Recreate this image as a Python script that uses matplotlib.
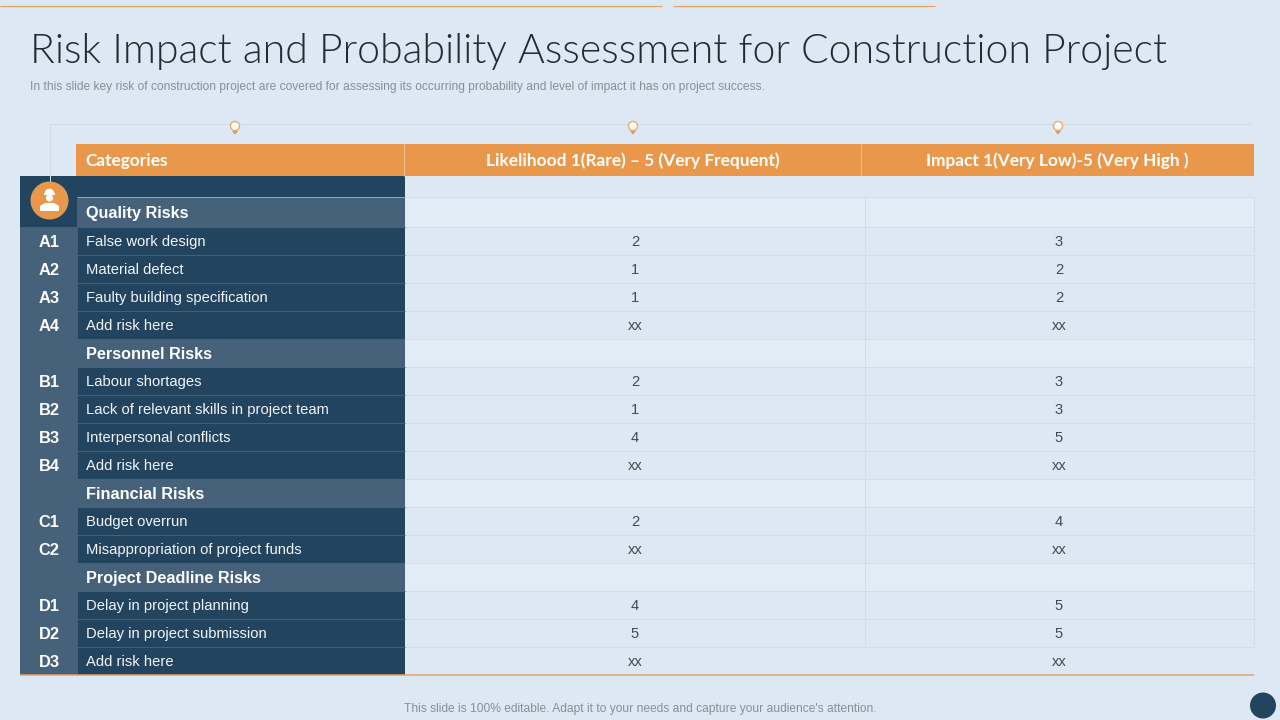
import matplotlib
matplotlib.use("Agg")
import matplotlib.pyplot as plt
from matplotlib.patches import Rectangle, Circle, Polygon, Wedge

# table content
codes = ["", "A1", "A2", "A3", "A4", "", "B1", "B2", "B3", "B4", "", "C1", "C2", "", "D1", "D2", "D3"]
categories = ["Quality Risks", "False work design", "Material defect", "Faulty building specification",
              "Add risk here", "Personnel Risks", "Labour shortages",
              "Lack of relevant skills in project team", "Interpersonal conflicts", "Add risk here",
              "Financial Risks", "Budget overrun", "Misappropriation of project funds",
              "Project Deadline Risks", "Delay in project planning", "Delay in project submission",
              "Add risk here"]
likelihood = ["", "2", "1", "1", "xx", "", "2", "1", "4", "xx", "", "2", "xx", "", "4", "5", "xx"]
impact = ["", "3", "2", "2", "xx", "", "3", "3", "5", "xx", "", "4", "xx", "", "5", "5", "xx"]
headers = ["Categories", "Likelihood 1(Rare) \u2013 5 (Very Frequent)", "Impact 1(Very Low)-5 (Very High )"]

BG = "#DCE8F3"
DARK = "#23445F"
SLATE = "#46627A"
ORANGE = "#E9984B"
PALE = "#E2ECF6"
GRID = "#D3DDE8"
RULE = "#E9A164"
PX = 0.72  # 1 pixel in points

SANS = ["Liberation Sans", "DejaVu Sans"]
HEAD = ["Lato", "DejaVu Sans"]

fig = plt.figure(figsize=(12.8, 7.2), dpi=100, facecolor=BG)
ax = fig.add_axes([0, 0, 1, 1])
ax.set_xlim(0, 1280)
ax.set_ylim(720, 0)
ax.axis("off")


def box(x0, y0, x1, y1, color, z=1):
    ax.add_patch(Rectangle((x0, y0), x1 - x0, y1 - y0, fc=color, ec="none", zorder=z))


def line(x0, y0, x1, y1, color, lw=PX, z=2):
    ax.plot([x0, x1], [y0, y1], color=color, lw=lw, zorder=z, solid_capstyle="butt")


# top rules
line(0, 5.5, 662, 5.5, RULE, PX * 1.2)
line(673, 5.5, 935, 5.5, RULE, PX * 1.2)

ax.text(30, 52, "Risk Impact and Probability Assessment for Construction Project",
        family=HEAD, weight=300, fontsize=29.55, color="#262B33", va="center", ha="left")
ax.text(30, 87, "In this slide key risk of construction project are covered for assessing its "
        "occurring probability and level of impact it has on project success.",
        family=SANS, fontsize=8.68, color="#8A8F96", va="center", ha="left")

# connector lines and bulbs
line(50, 123.5, 1251, 123.5, "#CFDAE5")
line(49.5, 123.5, 49.5, 182, "#CFDAE5")
for bx in [235, 633, 1058]:
    ax.add_patch(Circle((bx, 126), 4.5, fc="#FFFFFF", ec="#EDAA6A", lw=1.0, zorder=3))
    ax.add_patch(Polygon([(bx - 3, 131), (bx + 3, 131), (bx, 134.5)], fc="#D9975A", ec="none", zorder=3))

# header band
box(76, 144, 1254, 175.5, ORANGE)
line(403.5, 144, 403.5, 175.5, "#F0BE90", PX, 3)
line(860.5, 144, 860.5, 175.5, "#F0BE90", PX, 3)
ax.text(85.5, 161, headers[0], family=HEAD, weight="bold", fontsize=12.4, color="white", va="center")
ax.text(633, 161, headers[1], family=HEAD, weight="bold", fontsize=12.4, color="white", va="center", ha="center")
ax.text(1057, 161, headers[2], family=HEAD, weight="bold", fontsize=12.4, color="white", va="center", ha="center")

# body rows
box(20, 176, 405, 197, DARK)
box(20, 197, 77, 227, DARK)
y = 197
for i, cat in enumerate(categories):
    h = 30 if i == 0 else 28
    is_section = codes[i] == "" and likelihood[i] == ""
    mid = y + h / 2
    if is_section:
        box(77, y, 405, y + h, SLATE)
        box(405, y, 1254, y + h, PALE)
        if i > 0:
            box(20, y, 77, y + h, SLATE)
        ax.text(86, mid + 1.5, cat, family=SANS, weight="bold", fontsize=11.7, color="white", va="center")
    else:
        box(20, y, 77, y + h, SLATE)
        box(77, y, 405, y + h, DARK)
        ax.text(49, mid + 1.5, codes[i], family=SANS, weight="bold", fontsize=11.8, color="white", va="center", ha="center")
        ax.text(86, mid + 1, cat, family=SANS, fontsize=10.6, color="#F2F6FA", va="center")
        ax.text(635, mid + 1, likelihood[i], family=SANS, fontsize=10.6, color="#444B52", va="center", ha="center")
        ax.text(1059, mid + 1, impact[i], family=SANS, fontsize=10.6, color="#444B52", va="center", ha="center")
        line(77, y - 0.5, 405, y - 0.5, "#4A5E70", PX, 3)
    line(405, y - 0.5, 1254, y - 0.5, GRID, PX, 2)
    if i < len(categories) - 1:
        line(864.5, y, 864.5, y + h, GRID, PX, 2)
        line(1253.5, y, 1253.5, y + h, GRID, PX, 2)
    y += h
line(77, 196.5, 405, 196.5, "#8FA3B5", PX, 3)
line(76.5, 197, 76.5, y, "#4A5E70", PX, 3)
line(20, y + 0.2, 1254, y + 0.2, RULE, PX * 1.5, 4)

# worker badge
ax.add_patch(Circle((49.5, 200.5), 19, fc=ORANGE, ec="none", zorder=4))
ax.add_patch(Wedge((49.5, 193.5), 4.8, 180, 360, fc="white", ec="none", zorder=5))
ax.add_patch(Rectangle((44, 193), 11, 1.6, fc="white", ec="none", zorder=5))
ax.add_patch(Circle((49.5, 198), 3.6, fc="white", ec="none", zorder=5))
ax.add_patch(Polygon([(40, 211), (40, 206), (45, 203), (54, 203), (59, 206), (59, 211)],
                     fc="white", ec="none", zorder=5))

# footer
ax.text(640, 709, "This slide is 100% editable. Adapt it to your needs and capture your audience's attention.",
        family=SANS, fontsize=8.65, color="#8A8F96", va="center", ha="center")
ax.add_patch(Circle((1263, 705.5), 13, fc=DARK, ec="none", zorder=3))

fig.savefig("out.png", dpi=100, facecolor=BG)
